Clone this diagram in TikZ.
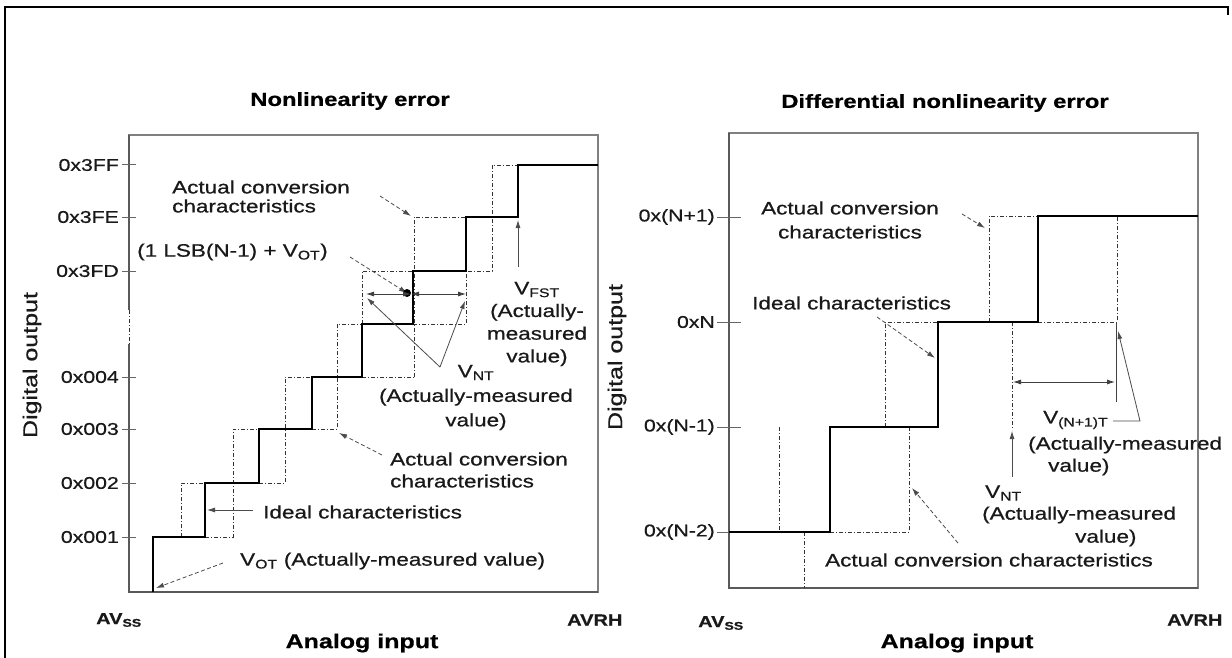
\documentclass[tikz,border=0pt]{standalone}
\usepackage{fontspec}
\setmainfont{Liberation Sans}[FakeStretch=1.25,FakeBold=0.7]
\usetikzlibrary{arrows.meta}
\begin{document}
\begin{tikzpicture}[x=1pt,y=-1pt,
  stair/.style={line width=2.4pt, black, line join=miter},
  dsh/.style={line width=0.9pt, black!80, dash pattern=on 4pt off 2pt on 1pt off 2pt},
  boxline/.style={line width=1.2pt, black!50},
  tickline/.style={line width=1pt, black!60},
  lbl/.style={font=\fontsize{18}{22}\selectfont, inner sep=0pt, text=black!90},
  ticklbl/.style={font=\fontsize{17}{20}\selectfont, inner sep=0pt, anchor=east, text=black!90},
  ttl/.style={font=\bfseries\fontsize{19}{22}\selectfont, inner sep=0pt, text=black},
  axlbl/.style={font=\bfseries\fontsize{20}{22}\selectfont, inner sep=0pt, text=black},
  endlbl/.style={font=\bfseries\fontsize{16}{18}\selectfont, inner sep=0pt, anchor=west, text=black!90},
  ptr/.style={-{Latex[length=8pt,width=5pt]}, line width=0.8pt, black!70},
  dptr/.style={-{Latex[length=8pt,width=5pt]}, line width=0.8pt, black!70, dash pattern=on 4pt off 2.5pt},
  dbl/.style={{Latex[length=8pt,width=5pt]}-{Latex[length=8pt,width=5pt]}, line width=0.8pt, black!75}]
\useasboundingbox (0,0) rectangle (1232,658);
\fill[white] (0,0) rectangle (1232,658);
% outer frame
\draw[line width=2.2pt] (5,658) -- (5,7) -- (1228,7) -- (1228,15);

% ================= LEFT CHART =================
\node[ttl] (t1) at (350,101) {Nonlinearity error};
\draw[boxline] (129,135) rectangle (598,592);
\draw[line width=1.2pt, black!65] (129,135) -- (129,592) -- (598,592);
\draw[line width=1.2pt, white] (129,310) -- (129,344);
\draw[dsh] (129,310) -- (129,344);
\foreach \yy/\tt in {165/0x3FF,217/0x3FE,271/0x3FD,377/0x004,429/0x003,483/0x002,537/0x001}{
  \draw[tickline] (122,\yy) -- (136,\yy);
  \node[ticklbl] (L\tt) at (119,\yy) {\tt};
}
\node[lbl, rotate=90, font=\fontsize{20}{22}\selectfont] (ylab1) at (32,365) {Digital output};
\node[endlbl] (avss1) at (96,620) {AV\textsubscript{SS}};
\node[endlbl] (avrh1) at (567,620) {AVRH};
\node[axlbl] (xlab1) at (362,643) {Analog input};

% dashed actual characteristics
\draw[dsh] (181,537) -- (181,483) -- (205,483);
\draw[dsh] (205,537) -- (233,537) -- (233,429) -- (259,429);
\draw[dsh] (259,483) -- (285,483) -- (285,377) -- (312,377);
\draw[dsh] (312,429) -- (337,429) -- (337,324) -- (362,324);
\draw[dsh] (362,324) -- (362,271) -- (413,271);
\draw[dsh] (362,377) -- (414,377);
\draw[dsh] (414,377) -- (414,217) -- (466,217);
\draw[dsh] (413,324) -- (466,324) -- (466,271) -- (492,271) -- (492,165) -- (518,165);

% solid staircase
\draw[stair] (153,592) -- (153,537) -- (205,537) -- (205,483) -- (259,483) -- (259,429)
  -- (312,429) -- (312,377) -- (362,377) -- (362,324) -- (413,324) -- (413,271)
  -- (466,271) -- (466,217) -- (518,217) -- (518,165) -- (598,165);

% labels and pointers
\node[lbl, align=left, anchor=west, font=\fontsize{18}{19}\selectfont] (acc1) at (172,196.5) {Actual conversion\\characteristics};
\coordinate (acc1tip) at (411,216);
\draw[dptr] (380,196) -- (acc1tip);

\node[lbl, anchor=west] (lsb) at (137,252) {(1 LSB(N-1) + V\textsubscript{OT})};
\coordinate (dotp) at (407,293);
\draw[dptr] (350,257) -- (dotp);
\fill[black] (dotp) circle (4pt);
\coordinate (dl) at (366,294);
\coordinate (dm) at (411,294);
\coordinate (dr) at (466,294);
\draw[dbl] (dl) -- (dm);
\draw[dbl] (dm) -- (dr);

\node[lbl, align=center, font=\fontsize{18}{24.5}\selectfont] (vnt1) at (476,397.5) {V\textsubscript{NT}\\(Actually-measured\\value)};
\coordinate (vntv) at (440,367);
\draw[ptr] (vntv) -- (367,298);
\draw[ptr] (vntv) -- (465,301);

\node[lbl, align=center, font=\fontsize{18}{22.7}\selectfont] (vfst) at (537,324) {V\textsubscript{FST}\\(Actually-\\measured\\value)};
\coordinate (vfstb) at (518,267);
\draw[ptr] (vfstb) -- (518,220);

\node[lbl, align=left, anchor=west] (acc2) at (390,470) {Actual conversion\\characteristics};
\draw[dptr] (382,455) -- (339,433);

\node[lbl, anchor=west] (ideal1) at (263,512) {Ideal characteristics};
\draw[ptr] (253,510) -- (207,510);

\node[lbl, anchor=west] (vot) at (240,561) {V\textsubscript{OT} (Actually-measured value)};
\draw[dptr] (223,563) -- (156,588);

% ================= RIGHT CHART =================
\node[ttl] (t2) at (945,103) {Differential nonlinearity error};
\draw[boxline] (729,133) rectangle (1198,588);
\draw[line width=1.2pt, black!65] (729,133) -- (729,588) -- (1198,588);
\foreach \yy/\tt/\nm in {217/0x(N+1)/a,322/0xN/b,427/0x(N-1)/c,532/0x(N-2)/d}{
  \draw[tickline] (717,\yy) -- (741,\yy);
  \node[ticklbl] (R\nm) at (715,\yy) {\tt};
}
\node[lbl, rotate=90, font=\fontsize{20}{22}\selectfont] (ylab2) at (617,357) {Digital output};
\node[endlbl] (avss2) at (698,623) {AV\textsubscript{SS}};
\node[endlbl] (avrh2) at (1167,620) {AVRH};
\node[axlbl] (xlab2) at (957,643) {Analog input};

% dashed
\draw[dsh] (779,427) -- (779,532);
\draw[dsh] (804,532) -- (804,588);
\draw[dsh] (830,532) -- (909,532) -- (909,427);
\draw[dsh] (885,427) -- (885,322) -- (938,322);
\draw[dsh] (989,322) -- (989,216) -- (1038,216);
\draw[dsh] (1012,322) -- (1012,430);
\draw[dsh] (1038,322) -- (1117,322) -- (1117,216);

% solid staircase
\draw[stair] (729,532) -- (830,532) -- (830,427) -- (938,427) -- (938,322)
  -- (1038,322) -- (1038,216) -- (1198,216);

\node[lbl, align=center, font=\fontsize{18}{24}\selectfont] (acc3) at (850,220) {Actual conversion\\characteristics};
\draw[dptr] (962,214) -- (985,228);

\node[lbl, anchor=west] (ideal2) at (752,303) {Ideal characteristics};
\draw[dptr] (877,317) -- (935,358);

\node[lbl, anchor=west] (acc4) at (825,560) {Actual conversion characteristics};
\draw[dptr] (958,543) -- (912,488);

\node[lbl, anchor=west] (vnt2a) at (985,493) {V\textsubscript{NT}};
\node[lbl, anchor=west] (vnt2b) at (982,515) {(Actually-measured};
\node[lbl, anchor=west] (vnt2c) at (1075,538) {value)};
\draw[ptr] (1012,477) -- (1012,431);

\coordinate (dl2) at (1013,382);
\coordinate (dr2) at (1115,382);
\draw[dbl] (dl2) -- (dr2);
\draw[line width=0.9pt, black!75] (1116,322) -- (1116,402);

\node[lbl, anchor=west] (vn1a) at (1043,420) {V\textsubscript{(N+1)T}};
\node[lbl, anchor=west] (vn1b) at (1028,445) {(Actually-measured};
\node[lbl, anchor=west] (vn1c) at (1048,467) {value)};
\coordinate (vn1k) at (1140,421);
\draw[ptr] (1113,421) -- (vn1k) -- (1118,331);
\end{tikzpicture}
\end{document}
